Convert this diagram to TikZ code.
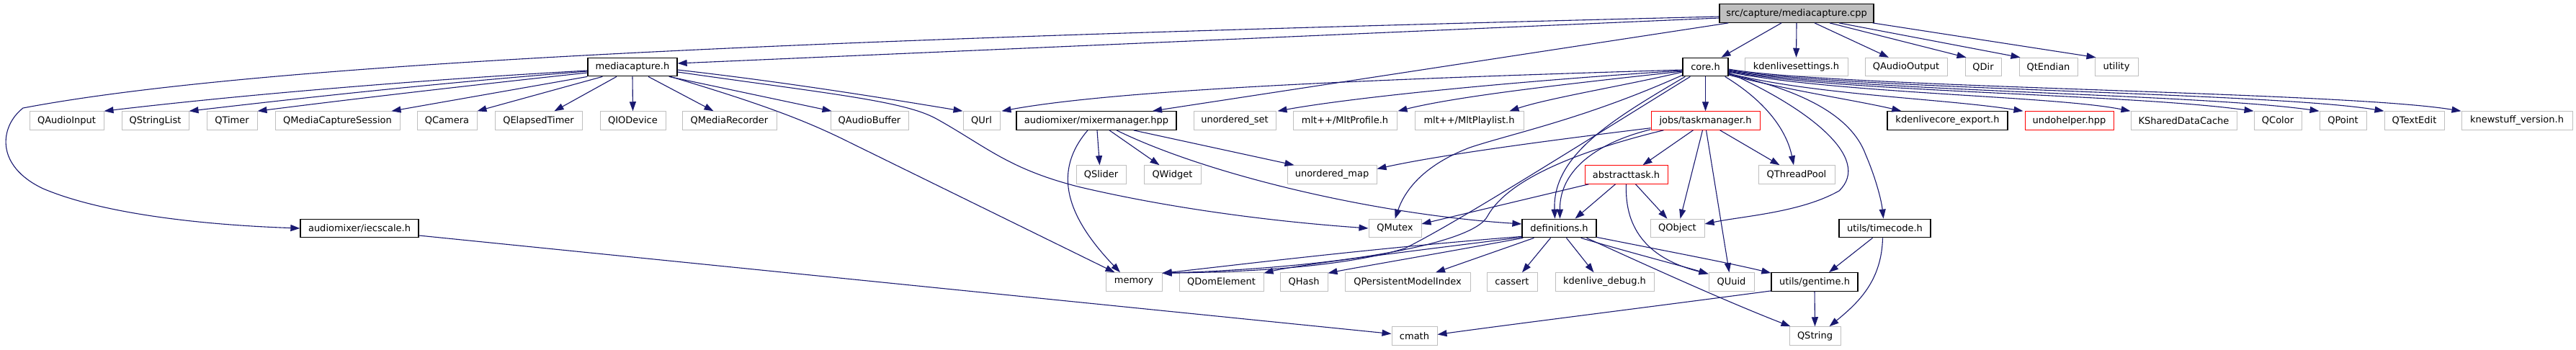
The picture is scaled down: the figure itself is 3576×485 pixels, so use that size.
\documentclass[tikz,border=0pt]{standalone}
\usepackage{fontspec}
\setmainfont{DejaVu Sans}
\usetikzlibrary{arrows.meta,calc}
\definecolor{edgeblue}{HTML}{191970}
\definecolor{extgray}{HTML}{BFBFBF}
\definecolor{rootfill}{HTML}{BFBFBF}
\definecolor{incred}{HTML}{FF0000}
\begin{document}
\begin{tikzpicture}[x=1pt,y=-1pt,
  box/.style={draw=#1, line width=1pt, minimum height=25.5pt, inner sep=0pt, fill=white,
    font=\fontsize{13}{15}\selectfont, text=black, anchor=center},
  ext/.style={box=extgray},
  doc/.style={box=black, line width=1.3pt},
  inc/.style={box=incred},
  root/.style={box=black, line width=1.3pt, fill=rootfill},
  dep/.style={draw=edgeblue, line width=1.1pt, -{Triangle[length=13pt,width=9pt]}},
]
\useasboundingbox[fill=white] (0,0) rectangle (3576,485);

% row 0
\node[root, minimum width=214pt] (cpp) at (2494,18.5) {src/capture/mediacapture.cpp};
% row 1
\node[doc, minimum width=124pt] (mch) at (878,93) {mediacapture.h};
\node[doc, minimum width=63pt] (core) at (2367.5,93) {core.h};
\node[ext, minimum width=143pt] (kset) at (2493.5,93) {kdenlivesettings.h};
\node[ext, minimum width=114pt] (qao) at (2646,93) {QAudioOutput};
\node[ext, minimum width=50pt] (qdir) at (2753,93) {QDir};
\node[ext, minimum width=81pt] (qte) at (2843.5,93) {QtEndian};
\node[ext, minimum width=60pt] (util) at (2938,93) {utility};
% row 2
\node[ext, minimum width=103pt] (qai) at (92.5,167.5) {QAudioInput};
\node[ext, minimum width=93pt] (qsl) at (215.5,167.5) {QStringList};
\node[ext, minimum width=70pt] (qtimer) at (322,167.5) {QTimer};
\node[ext, minimum width=173pt] (qmcs) at (468.5,167.5) {QMediaCaptureSession};
\node[ext, minimum width=83pt] (qcam) at (620.5,167.5) {QCamera};
\node[ext, minimum width=121pt] (qet) at (747.5,167.5) {QElapsedTimer};
\node[ext, minimum width=91pt] (qiod) at (878.5,167.5) {QIODevice};
\node[ext, minimum width=131pt] (qmr) at (1012.5,167.5) {QMediaRecorder};
\node[ext, minimum width=108pt] (qab) at (1207,167.5) {QAudioBuffer};
\node[ext, minimum width=51pt] (qurl) at (1362.5,167.5) {QUrl};
\node[doc, minimum width=222pt] (mixm) at (1522,167.5) {audiomixer/mixermanager.hpp};
\node[ext, minimum width=114pt] (uset) at (1714,167.5) {unordered\_set};
\node[ext, minimum width=144pt] (mltprof) at (1867,167.5) {mlt++/MltProfile.h};
\node[ext, minimum width=151pt] (mltpl) at (2039.5,167.5) {mlt++/MltPlaylist.h};
\node[inc, minimum width=151pt] (task) at (2367.5,167.5) {jobs/taskmanager.h};
\node[doc, minimum width=167pt] (kexp) at (2703.5,167.5) {kdenlivecore\_export.h};
\node[inc, minimum width=123pt] (undo) at (2872.5,167.5) {undohelper.hpp};
\node[ext, minimum width=147pt] (ksdc) at (3031.5,167.5) {KSharedDataCache};
\node[ext, minimum width=66pt] (qcolor) at (3162,167.5) {QColor};
\node[ext, minimum width=65pt] (qpoint) at (3252.5,167.5) {QPoint};
\node[ext, minimum width=83pt] (qtedit) at (3351.5,167.5) {QTextEdit};
\node[ext, minimum width=154pt] (knews) at (3494,167.5) {knewstuff\_version.h};
% row 3
\node[ext, minimum width=69pt] (qslider) at (1528.5,242.5) {QSlider};
\node[ext, minimum width=79pt] (qwidget) at (1627.5,242.5) {QWidget};
\node[ext, minimum width=124pt] (umap) at (1849,242.5) {unordered\_map};
\node[inc, minimum width=115pt] (abst) at (2257.5,242.5) {abstracttask.h};
\node[ext, minimum width=106pt] (qtp) at (2494,242.5) {QThreadPool};
% row 4
\node[doc, minimum width=164pt] (iec) at (499,317) {audiomixer/iecscale.h};
\node[ext, minimum width=73pt] (qmutex) at (1936.5,317) {QMutex};
\node[doc, minimum width=103pt] (defs) at (2164.5,317) {definitions.h};
\node[ext, minimum width=75pt] (qobj) at (2328.5,317) {QObject};
\node[doc, minimum width=127pt] (tc) at (2616.5,317) {utils/timecode.h};
% row 5
\node[ext, minimum width=78pt] (mem) at (1574,391.5) {memory};
\node[ext, minimum width=117pt] (qdom) at (1695.5,391.5) {QDomElement};
\node[ext, minimum width=66pt] (qhash) at (1810,391.5) {QHash};
\node[ext, minimum width=174pt] (qpmi) at (1954,391.5) {QPersistentModelIndex};
\node[ext, minimum width=70pt] (cassert) at (2099,391.5) {cassert};
\node[ext, minimum width=137pt] (kdbg) at (2227.5,391.5) {kdenlive\_debug.h};
\node[ext, minimum width=63pt] (quuid) at (2403.5,391.5) {QUuid};
\node[doc, minimum width=120pt] (gt) at (2519,391.5) {utils/gentime.h};
% row 6
\node[ext, minimum width=63pt] (cmath) at (1963.5,466.5) {cmath};
\node[ext, minimum width=71pt] (qstr) at (2519.5,466.5) {QString};

% cpp edges
\draw[dep] ($(cpp.west)+(0,6.5)$) -- ($(mch.east)+(0,-5)$);
\draw[dep] ($(cpp.west)+(0,4.5)$) .. controls (1300,50) and (400,80) .. (32,150) .. controls (0,175) and (-8,230) .. (60,262) .. controls (150,300) and (300,313) .. (iec.west);
\draw[dep] ($(cpp.south west)+(13,0)$) -- ($(mixm.north)+(78,0)$);
\draw[dep] ($(cpp.south)+(-21,0)$) -- ($(core.north)+(22,0)$);
\draw[dep] (cpp.south) -- (kset.north);
\draw[dep] ($(cpp.south)+(25,0)$) -- ($(qao.north)+(-24,0)$);
\draw[dep] ($(cpp.south)+(46,0)$) -- ($(qdir.north west)+(2,0)$);
\draw[dep] ($(cpp.south)+(59,0)$) -- ($(qte.north west)+(2,0)$);
\draw[dep] ($(cpp.south east)+(-2,0)$) -- ($(util.north west)+(2,0)$);

% mediacapture.h edges
\draw[dep] ($(mch.west)+(0,5)$) .. controls (600,110) and (350,130) .. (qai.north east);
\draw[dep] ($(mch.west)+(0,6)$) .. controls (600,116) and (420,136) .. (qsl.north east);
\draw[dep] ($(mch.west)+(0,8)$) .. controls (620,122) and (470,140) .. (qtimer.north east);
\draw[dep] (mch.south west) -- ($(qmcs.north east)+(-12,0)$);
\draw[dep] ($(mch.south west)+(21,0)$) -- (qcam.north east);
\draw[dep] ($(mch.south)+(-22,0)$) -- ($(qet.north)+(22,0)$);
\draw[dep] (mch.south) -- (qiod.north);
\draw[dep] ($(mch.south)+(22,0)$) -- ($(qmr.north)+(-22,0)$);
\draw[dep] ($(mch.south east)+(-12,0)$) -- ($(qab.north west)+(2,0)$);
\draw[dep] ($(mch.east)+(0,4)$) .. controls (1100,115) and (1250,140) .. (qurl.north west);
\draw[dep] ($(mch.south east)+(-10,0)$) .. controls (1060,145) and (1120,168) .. (1180,198) -- ($(mem.north west)+(13,0)$);
\draw[dep] ($(mch.east)+(0,7)$) .. controls (1150,130) and (1255,140) .. (1300,165) .. controls (1370,204) and (1400,235) .. (1500,260) .. controls (1650,295) and (1800,310) .. (qmutex.west);

% mixermanager edges
\draw[dep] ($(mixm.south)+(-12,0)$) .. controls (1455,245) and (1490,310) .. ($(mem.north)+(-19,0)$);
\draw[dep] ($(mixm.south)+(1,0)$) -- ($(qslider.north)+(-2,0)$);
\draw[dep] ($(mixm.south)+(18,0)$) -- ($(qwidget.north)+(-18,0)$);
\draw[dep] ($(mixm.south east)+(-60,0)$) -- ($(umap.north west)+(10,0)$);
\draw[dep] ($(mixm.south)+(28,0)$) .. controls (1670,240) and (1900,297) .. ($(defs.west)+(0,-6)$);

% core.h edges
\draw[dep] ($(core.west)+(0,4)$) .. controls (1900,110) and (1550,125) .. ($(qurl.north east)+(2,0)$);
\draw[dep] ($(core.west)+(0,5)$) .. controls (2100,113) and (1880,135) .. ($(uset.north east)+(2,0)$);
\draw[dep] ($(core.west)+(0,6)$) .. controls (2200,114) and (2030,132) .. ($(mltprof.north east)+(1,0)$);
\draw[dep] ($(core.west)+(0,7)$) .. controls (2260,118) and (2150,136) .. ($(mltpl.north east)+(-20,0)$);
\draw[dep] ($(core.south west)+(0,-2)$) .. controls (2200,165) and (2100,185) .. (2040,205) .. controls (1975,230) and (1950,265) .. (qmutex.north);
\draw[dep] ($(core.south west)+(4,0)$) .. controls (2240,165) and (2155,215) .. ($(defs.north)+(-6,0)$);
\draw[dep] ($(core.south west)+(11,0)$) .. controls (2150,228) and (2020,310) .. (1950,345) .. controls (1860,372) and (1720,378) .. ($(mem.north east)+(0,1)$);
\draw[dep] (core.south) -- (task.north);
\draw[dep] ($(core.south east)+(-5,0)$) .. controls (2450,140) and (2480,180) .. ($(qtp.north)+(-4,0)$);
\draw[dep] ($(core.east)+(0,8)$) .. controls (2510,150) and (2600,220) .. (2553,265) .. controls (2500,295) and (2420,300) .. ($(qobj.east)+(0,-6)$);
\draw[dep] ($(core.east)+(0,10)$) .. controls (2500,125) and (2570,160) .. (2590,215) .. controls (2605,250) and (2612,280) .. ($(tc.north)+(-2,0)$);
\draw[dep] ($(core.east)+(0,11)$) .. controls (2480,125) and (2580,140) .. ($(kexp.north west)+(20,0)$);
\draw[dep] ($(core.east)+(0,9)$) .. controls (2520,132) and (2700,137) .. ($(undo.north west)+(-2,0)$);
\draw[dep] ($(core.east)+(0,7)$) .. controls (2550,130) and (2850,133) .. (ksdc.north west);
\draw[dep] ($(core.east)+(0,6)$) .. controls (2550,128) and (2950,130) .. (qcolor.north west);
\draw[dep] ($(core.east)+(0,5)$) .. controls (2550,126) and (3050,130) .. (qpoint.north west);
\draw[dep] ($(core.east)+(0,4)$) .. controls (2550,124) and (3150,128) .. (qtedit.north west);
\draw[dep] ($(core.east)+(0,3)$) .. controls (2550,122) and (3250,127) .. (knews.north west);

% taskmanager edges
\draw[dep] ($(task.south west)+(0,-3)$) .. controls (2150,195) and (2000,215) .. ($(umap.east)+(0,-8)$);
\draw[dep] ($(task.south west)+(0,-1)$) .. controls (2210,200) and (2165,240) .. ($(defs.north)+(1,0)$);
\draw[dep] ($(task.south west)+(18,0)$) .. controls (2170,215) and (2090,255) .. (2065,300) .. controls (2045,340) and (1850,372) .. ($(mem.north east)+(0,1)$);
\draw[dep] ($(task.south)+(-17,0)$) -- ($(abst.north)+(23,0)$);
\draw[dep] ($(task.south)+(-4,0)$) -- ($(qobj.north)+(4,0)$);
\draw[dep] ($(task.south)+(1,0)$) -- ($(quuid.north)+(-3,0)$);
\draw[dep] ($(task.south)+(20,0)$) -- ($(qtp.north west)+(30,0)$);

% abstracttask edges
\draw[dep] ($(abst.south west)+(6,0)$) -- ($(qmutex.east)+(0,-6)$);
\draw[dep] ($(abst.south)+(-15,0)$) -- ($(defs.north)+(22,0)$);
\draw[dep] ($(abst.south)+(13,0)$) -- ($(qobj.north)+(-14,0)$);
\draw[dep] (abst.south) .. controls (2255,320) and (2290,360) .. ($(quuid.north west)+(0,2)$);

% definitions edges
\draw[dep] ($(defs.south west)+(0,-2)$) .. controls (1900,345) and (1700,370) .. ($(mem.north east)+(0,1)$);
\draw[dep] ($(defs.south west)+(0,-1)$) .. controls (1950,350) and (1800,368) .. ($(qdom.north east)+(0,1)$);
\draw[dep] ($(defs.south west)+(2,0)$) .. controls (1980,355) and (1880,372) .. ($(qhash.north east)+(0,1)$);
\draw[dep] ($(defs.south)+(-35,0)$) -- ($(qpmi.north)+(39,0)$);
\draw[dep] ($(defs.south)+(-12,0)$) -- ($(cassert.north)+(14,0)$);
\draw[dep] ($(defs.south)+(10,0)$) -- ($(kdbg.north)+(-15,0)$);
\draw[dep] ($(defs.south)+(30,0)$) .. controls (2260,350) and (2330,368) .. ($(quuid.north west)+(0,2)$);
\draw[dep] ($(defs.south)+(38,0)$) .. controls (2300,375) and (2400,420) .. ($(qstr.north west)+(2,0)$);
\draw[dep] ($(defs.south east)+(0,-1)$) .. controls (2320,350) and (2400,365) .. ($(gt.north west)+(0,1)$);

% timecode / gentime / iecscale
\draw[dep] ($(tc.south)+(-17,0)$) -- ($(gt.north)+(20,0)$);
\draw[dep] ($(tc.south)+(-3,0)$) .. controls (2612,390) and (2580,420) .. ($(qstr.north)+(20,0)$);
\draw[dep] (gt.south) -- (qstr.north);
\draw[dep] ($(gt.south west)+(0,-1)$) .. controls (2300,425) and (2100,450) .. ($(cmath.east)+(0,-2)$);
\draw[dep] ($(iec.east)+(0,10)$) -- ($(cmath.west)+(0,-3)$);
\end{tikzpicture}
\end{document}
